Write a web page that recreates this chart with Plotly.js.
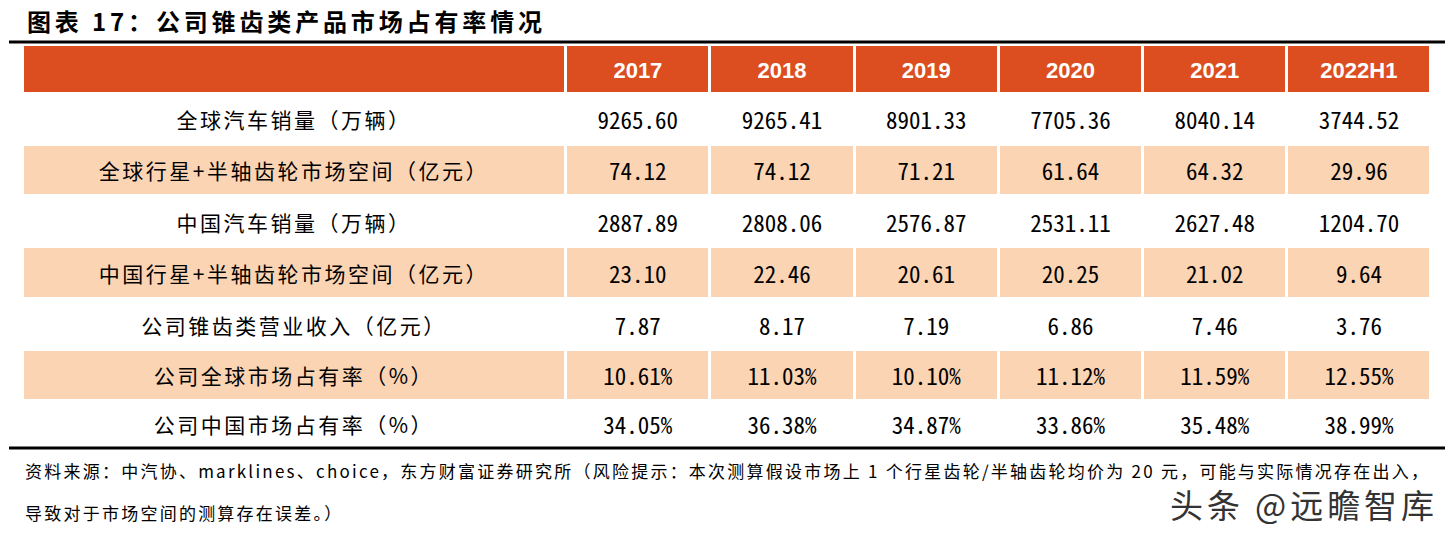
<!DOCTYPE html>
<html>
<head>
<meta charset="utf-8">
<script src="https://cdn.plot.ly/plotly-3.0.1.min.js"></script>
<style>
html,body{margin:0;padding:0;background:#fff;}
#chart{width:1451px;height:541px;}
</style>
</head>
<body>
<div id="chart"></div>
<script>
const titleText = "图表 17：公司锥齿类产品市场占有率情况";
const years = ["2017", "2018", "2019", "2020", "2021", "2022H1"];
const rowLabels = [
  "全球汽车销量（万辆）",
  "全球行星+半轴齿轮市场空间（亿元）",
  "中国汽车销量（万辆）",
  "中国行星+半轴齿轮市场空间（亿元）",
  "公司锥齿类营业收入（亿元）",
  "公司全球市场占有率（%）",
  "公司中国市场占有率（%）"
];
const globalSales = ["9265.60", "9265.41", "8901.33", "7705.36", "8040.14", "3744.52"];
const globalMarket = ["74.12", "74.12", "71.21", "61.64", "64.32", "29.96"];
const chinaSales = ["2887.89", "2808.06", "2576.87", "2531.11", "2627.48", "1204.70"];
const chinaMarket = ["23.10", "22.46", "20.61", "20.25", "21.02", "9.64"];
const bevelRevenue = ["7.87", "8.17", "7.19", "6.86", "7.46", "3.76"];
const globalShare = ["10.61%", "11.03%", "10.10%", "11.12%", "11.59%", "12.55%"];
const chinaShare = ["34.05%", "36.38%", "34.87%", "33.86%", "35.48%", "38.99%"];
const sourceLine1 = "资料来源：中汽协、marklines、choice，东方财富证券研究所（风险提示：本次测算假设市场上 1 个行星齿轮/半轴齿轮均价为 20 元，可能与实际情况存在出入，";
const sourceLine2 = "导致对于市场空间的测算存在误差。）";
const watermark = "头条 @远瞻智库";

const rows = [globalSales, globalMarket, chinaSales, chinaMarket, bevelRevenue, globalShare, chinaShare];
const columns = [rowLabels].concat(years.map((y, j) => rows.map(r => r[j])));
const rowFill = rowLabels.map((_, i) => i % 2 === 1 ? "#FBD4B4" : "#FFFFFF");
const fills = columns.map(() => rowFill);

const W = 1451, H = 541;
const headerH = 49, rowH = 51.3, tableTop = 44;
const tableBottom = tableTop + headerH + rowH * rowLabels.length;

const trace = {
  type: "table",
  domain: {x: [22 / W, 1431 / W], y: [1 - tableBottom / H, 1 - tableTop / H]},
  columnwidth: [543, 144, 144, 144, 144, 144, 144],
  header: {
    values: [""].concat(years),
    align: "center",
    height: headerH,
    fill: {color: "#DC4E20"},
    line: {color: "#FFFFFF", width: 3},
    font: {family: "Liberation Sans, Arial", size: 22, color: "#FFFFFF", weight: "bold"}
  },
  cells: {
    values: columns,
    align: "center",
    height: rowH,
    fill: {color: fills},
    line: {color: "#FFFFFF", width: 3},
    font: {
      family: ["Noto Sans CJK SC"].concat(years.map(() => "Noto Sans Mono CJK SC, Liberation Mono, monospace")),
      size: [21].concat(years.map(() => 23)),
      color: "#000000"
    }
  }
};

const layout = {
  width: W, height: H,
  margin: {l: 0, r: 0, t: 0, b: 0},
  paper_bgcolor: "#FFFFFF",
  showlegend: false,
  shapes: [
    {type: "line", xref: "paper", yref: "paper", x0: 9 / W, x1: 1445 / W, y0: 1 - 42 / H, y1: 1 - 42 / H, line: {color: "#000", width: 3}},
    {type: "line", xref: "paper", yref: "paper", x0: 9 / W, x1: 1445 / W, y0: 1 - 448 / H, y1: 1 - 448 / H, line: {color: "#000", width: 3}}
  ],
  annotations: [
    {text: "<b>" + titleText + "</b>", xref: "paper", yref: "paper", x: 26 / W, y: 1 - 20 / H, xanchor: "left", yanchor: "middle", showarrow: false,
     font: {family: "Noto Sans CJK SC", size: 24, color: "#000"}},
    {text: sourceLine1, xref: "paper", yref: "paper", x: 24 / W, y: 1 - 470 / H, xanchor: "left", yanchor: "middle", showarrow: false,
     font: {family: "Noto Sans CJK SC", size: 17, color: "#000"}},
    {text: sourceLine2, xref: "paper", yref: "paper", x: 24 / W, y: 1 - 512 / H, xanchor: "left", yanchor: "middle", showarrow: false,
     font: {family: "Noto Sans CJK SC", size: 17, color: "#000"}},
    {text: watermark, xref: "paper", yref: "paper", x: 1436 / W, y: 1 - 504 / H, xanchor: "right", yanchor: "middle", showarrow: false,
     font: {family: "Noto Sans CJK SC", size: 33, color: "#333333"}}
  ]
};

// target vertical centres of text for header and each body row
const rowTextCentres = [70, 119, 170, 222, 273, 325, 375, 424];
// horizontal extents of annotation texts in the reference: spacing is fitted to them
const annExtent = {
  0: {left: 27, right: 542},
  1: {left: 25, right: 1428},
  2: {left: 25, sameAs: 1},
  3: {left: 1170, right: 1434}
};

Plotly.newPlot("chart", [trace], layout, {staticPlot: true, displayModeBar: false}).then(function (gd) {
  const box = gd.getBoundingClientRect();
  gd.querySelectorAll("text.cell-text").forEach(function (el) {
    const r = el.getBoundingClientRect();
    if (r.height === 0) return;
    const cx = (r.left + r.right) / 2 - box.left;
    if (cx < 565) el.style.letterSpacing = "2.5px";
    const r2 = el.getBoundingClientRect();
    const cy = (r2.top + r2.bottom) / 2 - box.top;
    let best = rowTextCentres[0];
    rowTextCentres.forEach(function (t) { if (Math.abs(t - cy) < Math.abs(best - cy)) best = t; });
    const dx = cx < 565 ? ((r2.left + r2.right) / 2 - box.left) - cx : 0;
    el.style.translate = (-dx) + "px " + (best - cy) + "px";
  });
  const spacing = {};
  const groups = Array.from(gd.querySelectorAll("g.annotation"));
  groups.sort(function (a, b) { return (+a.getAttribute("data-index")) - (+b.getAttribute("data-index")); });
  groups.forEach(function (g) {
    const idx = g.getAttribute("data-index");
    const spec = annExtent[idx];
    if (!spec) return;
    const t = g.querySelector("text.annotation-text");
    if (!t) return;
    const r0 = t.getBoundingClientRect();
    const n = t.textContent.length;
    let ls;
    if (spec.sameAs !== undefined) ls = spacing[spec.sameAs];
    else ls = Math.max(0, ((spec.right - spec.left) - r0.width) / Math.max(1, n - 1));
    spacing[idx] = ls;
    t.style.letterSpacing = ls + "px";
    const r = t.getBoundingClientRect();
    const dx = spec.left - (r.left - box.left);
    t.style.translate = dx + "px 0px";
  });
});
</script>
</body>
</html>
